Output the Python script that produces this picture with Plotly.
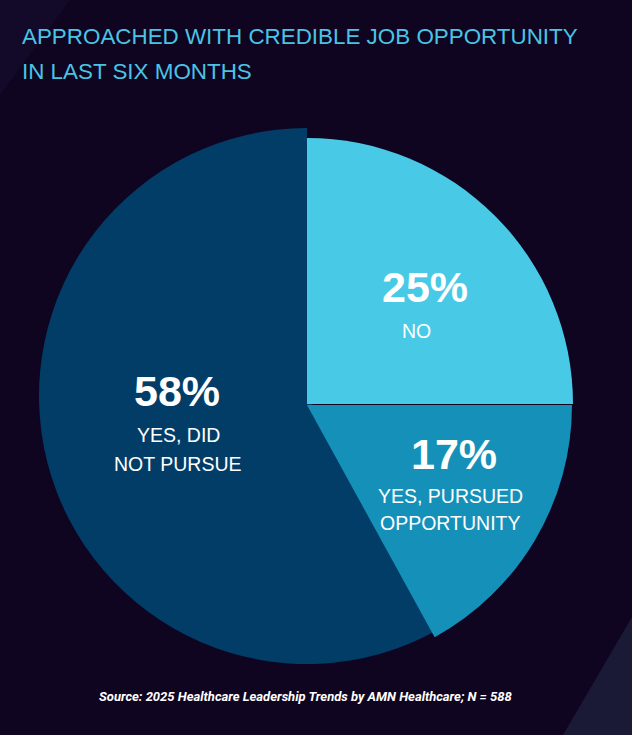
import plotly.graph_objects as go

# ---- data ----
categories = ["NO", "YES, PURSUED OPPORTUNITY", "YES, DID NOT PURSUE"]
values = [25, 17, 58]
label_lines = [["NO"], ["YES, PURSUED", "OPPORTUNITY"], ["YES, DID", "NOT PURSUE"]]
title_lines = ["APPROACHED WITH CREDIBLE JOB OPPORTUNITY", "IN LAST SIX MONTHS"]
source_text = "Source: 2025 Healthcare Leadership Trends by AMN Healthcare; N = 588"

# ---- style ----
W, H = 632, 735
BG = "#0f0521"
slice_colors = ["#48c9e6", "#1591b9", "#023d67"]
TITLE_COLOR = "#4ac4e4"
# per-slice pie center (px) and radius (px)
slice_geom = [((307, 404), 266), ((307, 405), 265), ((307, 396), 268)]
# label positions (px): percent, then lines
label_pos = [
    (425, 287, [(416, 331)]),
    (454, 454, [(450, 496), (450, 523)]),
    (177, 391, [(178, 435), (178, 464)]),
]

fig = go.Figure()

# draw slices back to front: big slice first
for i in [2, 0, 1]:
    (cx, cy), r = slice_geom[i]
    cols = ["rgba(0,0,0,0)"] * len(values)
    cols[i] = slice_colors[i]
    fig.add_trace(go.Pie(
        labels=categories, values=values, sort=False,
        direction="clockwise", rotation=0,
        marker=dict(colors=cols, line=dict(width=0)),
        textinfo="none", hoverinfo="label+percent", showlegend=False,
        domain=dict(x=[(cx - r) / W, (cx + r) / W],
                    y=[1 - (cy + r) / H, 1 - (cy - r) / H]),
    ))

ann = []
def px(x, y):
    return x / W, 1 - y / H

# title
for k, line in enumerate(title_lines):
    x, y = px(20, [36, 72][k])
    ann.append(dict(x=x, y=y, xref="paper", yref="paper", text=line,
                    showarrow=False, xanchor="left", yanchor="middle",
                    font=dict(family="Liberation Sans", size=22.4, color=TITLE_COLOR)))

# slice labels
for i, v in enumerate(values):
    ppx, ppy, lines = label_pos[i]
    x, y = px(ppx, ppy)
    ann.append(dict(x=x, y=y, xref="paper", yref="paper", text=f"<b>{v}%</b>",
                    showarrow=False, xanchor="center", yanchor="middle",
                    font=dict(family="Liberation Sans", size=43, color="white")))
    for (lx, ly), t in zip(lines, label_lines[i]):
        x, y = px(lx, ly)
        ann.append(dict(x=x, y=y, xref="paper", yref="paper", text=t,
                        showarrow=False, xanchor="center", yanchor="middle",
                        font=dict(family="Liberation Sans", size=19.5, color="white")))

# source
x, y = px(306, 696)
ann.append(dict(x=x, y=y, xref="paper", yref="paper", text=f"<b><i>{source_text}</i></b>",
                showarrow=False, xanchor="center", yanchor="middle",
                font=dict(family="Roboto", size=13, color="white")))

shapes = [
    dict(type="path", xref="paper", yref="paper", layer="below",
         path=f"M {563/W} 0 L 1 0 L 1 {1-617/H} Z",
         fillcolor="#1a1a36", line=dict(width=0)),
    dict(type="path", xref="paper", yref="paper", layer="below",
         path=f"M 0 1 L {70/W} 1 L 0 {1-95/H} Z",
         fillcolor="#130929", line=dict(width=0)),
]

fig.update_layout(
    width=W, height=H, margin=dict(l=0, r=0, t=0, b=0),
    paper_bgcolor=BG, plot_bgcolor=BG,
    annotations=ann, shapes=shapes, showlegend=False,
)

fig.write_html(
    "out.html",
    config={"displayModeBar": False},
    post_script="document.body.style.margin='0';document.body.style.overflow='hidden';"
                "document.body.style.background='" + BG + "';",
)
